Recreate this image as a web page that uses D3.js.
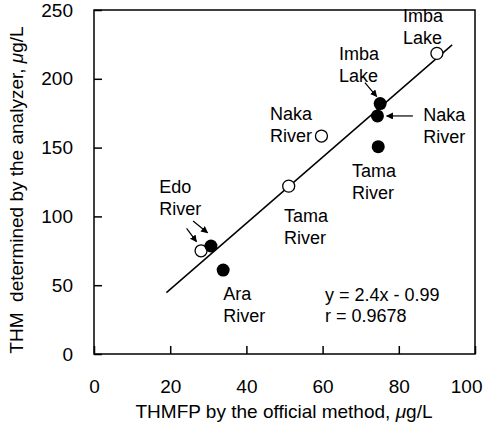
<!DOCTYPE html>
<html lang="en">
<head>
    <meta charset="UTF-8">
    <title>THM analyzer vs official method</title>
    <script src="https://d3js.org/d3.v7.min.js"></script>
    <style>
        body { margin: 0; background: #fff; }
        svg { display: block; }
        text { font-family: "Liberation Sans", Arial, Helvetica, sans-serif; fill: #000; }
    </style>
</head>
<body>
<script>
    // values
    const xTicks = [0, 20, 40, 60, 80, 100];
    const yTicks = [0, 50, 100, 150, 200, 250];

    // open circles
    const openSites = ["Edo River", "Tama River", "Naka River", "Imba Lake"];
    const openOfficial = [28.1, 51.1, 59.7, 90.0];
    const openAnalyzer = [75, 122, 158.4, 218.5];

    // filled circles
    const filledSites = ["Edo River", "Ara River", "Tama River", "Naka River", "Imba Lake"];
    const filledOfficial = [30.7, 33.9, 74.6, 74.4, 75.1];
    const filledAnalyzer = [78.5, 61, 150.7, 173, 182];

    // regression y = 2.4x - 0.99
    const slope = 2.4, intercept = -0.99;
    const fitRange = [19, 94];

    const width = 484, height = 435;
    const plotLeft = 94, plotRight = 475, plotTop = 10, plotBottom = 354;

    const x = d3.scaleLinear().domain([0, 100]).range([plotLeft, plotRight]);
    const y = d3.scaleLinear().domain([0, 250]).range([plotBottom, plotTop]);

    const svg = d3.select("body").append("svg")
        .attr("width", width)
        .attr("height", height);

    svg.append("defs").append("marker")
        .attr("id", "head")
        .attr("viewBox", "0 0 10 10")
        .attr("refX", 9).attr("refY", 5)
        .attr("markerWidth", 7).attr("markerHeight", 7)
        .attr("markerUnits", "userSpaceOnUse")
        .attr("orient", "auto")
        .append("path")
        .attr("d", "M0,0L10,5L0,10Z")
        .attr("fill", "#000");

    // frame
    svg.append("rect")
        .attr("x", plotLeft).attr("y", plotTop)
        .attr("width", plotRight - plotLeft).attr("height", plotBottom - plotTop)
        .attr("fill", "none").attr("stroke", "#000").attr("stroke-width", 1.5);

    // axes with inward ticks
    const xAxis = svg.append("g")
        .attr("transform", `translate(0,${plotBottom})`)
        .call(d3.axisBottom(x).tickValues(xTicks).tickSize(-8).tickPadding(26));
    const yAxis = svg.append("g")
        .attr("transform", `translate(${plotLeft},0)`)
        .call(d3.axisLeft(y).tickValues(yTicks).tickSize(-8).tickPadding(21));
    [xAxis, yAxis].forEach(g => {
        g.select(".domain").remove();
        g.selectAll(".tick line").attr("stroke", "#000").attr("stroke-width", 1.5);
        g.selectAll(".tick text")
            .style("font-family", "'Liberation Sans', Arial, sans-serif")
            .style("font-size", "19px").attr("fill", "#000");
    });
    // last x label is pulled inside the picture
    xAxis.selectAll(".tick text").filter(d => d === 100)
        .attr("text-anchor", "end").attr("x", 7);

    // axis titles
    const xTitle = svg.append("text")
        .attr("x", 284).attr("y", 418)
        .attr("text-anchor", "middle")
        .style("font-size", "19px");
    xTitle.append("tspan").text("THMFP by the official method, ");
    xTitle.append("tspan").style("font-style", "italic").text("\u03bc");
    xTitle.append("tspan").text("g/L");

    const yTitle = svg.append("text")
        .attr("transform", "translate(23,190) rotate(-90)")
        .attr("text-anchor", "middle")
        .style("font-size", "19px")
        .style("white-space", "pre");
    yTitle.append("tspan").text("THM  determined by the analyzer, ");
    yTitle.append("tspan").style("font-style", "italic").text("\u03bc");
    yTitle.append("tspan").text("g/L");

    // regression line
    svg.append("line")
        .attr("x1", x(fitRange[0])).attr("y1", y(slope * fitRange[0] + intercept))
        .attr("x2", x(fitRange[1])).attr("y2", y(slope * fitRange[1] + intercept))
        .attr("stroke", "#000").attr("stroke-width", 1.5);

    // points
    svg.selectAll("circle.open")
        .data(openSites)
        .enter().append("circle")
        .attr("class", "open")
        .attr("cx", (d, i) => x(openOfficial[i]))
        .attr("cy", (d, i) => y(openAnalyzer[i]))
        .attr("r", 6)
        .attr("fill", "#fff").attr("stroke", "#000").attr("stroke-width", 1.3);

    svg.selectAll("circle.filled")
        .data(filledSites)
        .enter().append("circle")
        .attr("class", "filled")
        .attr("cx", (d, i) => x(filledOfficial[i]))
        .attr("cy", (d, i) => y(filledAnalyzer[i]))
        .attr("r", 6.5)
        .attr("fill", "#000");

    // labels, placed in data units (left edge, first baseline)
    const labelPos = [
        { text: "Imba Lake", at: [81.1, 241.3] },
        { text: "Imba Lake", at: [64.3, 213.7] },
        { text: "Naka River", at: [46.2, 170] },
        { text: "Naka River", at: [86.4, 169.3] },
        { text: "Tama River", at: [67.7, 128.6] },
        { text: "Tama River", at: [49.9, 95.9] },
        { text: "Edo River", at: [17.1, 117] },
        { text: "Ara River", at: [33.9, 39.2] }
    ];
    labelPos.forEach(l => {
        const t = svg.append("text")
            .attr("x", x(l.at[0])).attr("y", y(l.at[1]))
            .style("font-size", "18px");
        l.text.split(" ").forEach((w, i) => {
            t.append("tspan").attr("x", x(l.at[0])).attr("dy", i ? 22 : 0).text(w);
        });
    });

    // arrows
    const arrows = [
        [[71.1, 197.2], [74.2, 187.1]],
        [[83.7, 173], [76.8, 173]],
        [[24.3, 91.3], [26.9, 81.6]],
        [[26.0, 96.6], [29.8, 88.1]]
    ];
    svg.selectAll("line.arrow")
        .data(arrows)
        .enter().append("line")
        .attr("class", "arrow")
        .attr("x1", d => x(d[0][0])).attr("y1", d => y(d[0][1]))
        .attr("x2", d => x(d[1][0])).attr("y2", d => y(d[1][1]))
        .attr("stroke", "#000").attr("stroke-width", 1.2)
        .attr("marker-end", "url(#head)");

    // equation
    svg.append("text").attr("x", 325).attr("y", 301)
        .style("font-size", "18px").text("y = 2.4x - 0.99");
    svg.append("text").attr("x", 325).attr("y", 322)
        .style("font-size", "18px").text("r = 0.9678");
</script>
</body>
</html>
